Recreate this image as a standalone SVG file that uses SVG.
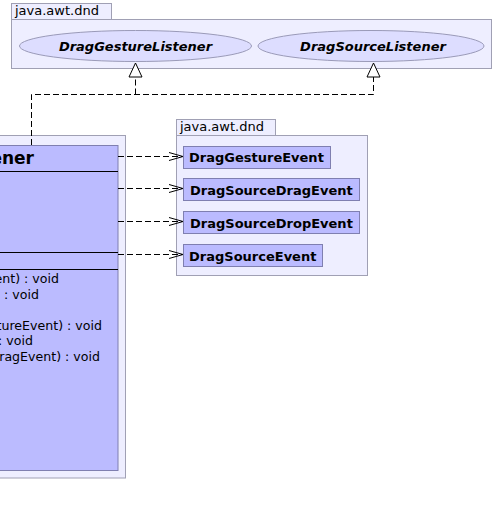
<svg xmlns="http://www.w3.org/2000/svg" width="494" height="516" viewBox="0 0 494 516">
<defs>
<style>
.pkg{fill:#EEEEFF;stroke:#A0A0B4;stroke-width:1}
.cls{fill:#BBBBFF;stroke:#7F7FB0;stroke-width:1}
.ell{fill:#DDDDFF;stroke:#9A9AB8;stroke-width:1}
.sep{stroke:#000;stroke-width:1}
.tab{font-family:"DejaVu Sans",sans-serif;font-size:13px;fill:#000}
.ev{font-family:"DejaVu Sans",sans-serif;font-size:13px;font-weight:bold;fill:#000}
.ifc{font-family:"DejaVu Sans",sans-serif;font-size:13px;font-weight:bold;font-style:italic;fill:#000}
.hdr{font-family:"DejaVu Sans",sans-serif;font-size:17px;font-weight:bold;fill:#000}
.mth{font-family:"DejaVu Sans",sans-serif;font-size:12.6px;fill:#000}
.dash{fill:none;stroke:#000;stroke-width:1;stroke-dasharray:6,3}
.tri{fill:#fff;stroke:#000;stroke-width:1}
.open{fill:none;stroke:#000;stroke-width:1}
</style>
</defs>
<g id="pkg-top">
<rect class="pkg" x="11.5" y="3.5" width="100" height="16"/>
<rect class="pkg" x="11.5" y="19.5" width="480" height="49"/>
<text class="tab" x="15" y="15">java.awt.dnd</text>
</g>
<g id="DragGestureListener">
<ellipse class="ell" cx="135.5" cy="46" rx="116" ry="15.5"/>
<text class="ifc" x="135.5" y="50.5" text-anchor="middle">DragGestureListener</text>
</g>
<g id="DragSourceListener">
<ellipse class="ell" cx="371" cy="46" rx="113" ry="15.5"/>
<text class="ifc" x="373" y="50.5" text-anchor="middle">DragSourceListener</text>
</g>
<g id="pkg-events">
<rect class="pkg" x="176.5" y="119.5" width="99" height="16"/>
<rect class="pkg" x="176.5" y="135.5" width="191" height="140"/>
<text class="tab" x="180" y="131">java.awt.dnd</text>
</g>
<g id="DragGestureEvent">
<rect class="cls" x="183.5" y="146.5" width="147" height="22"/>
<text class="ev" x="189" y="162">DragGestureEvent</text>
</g>
<g id="DragSourceDragEvent">
<rect class="cls" x="183.5" y="178.5" width="176" height="22"/>
<text class="ev" x="190" y="194.5">DragSourceDragEvent</text>
</g>
<g id="DragSourceDropEvent">
<rect class="cls" x="183.5" y="211.5" width="176" height="22"/>
<text class="ev" x="190" y="227.5">DragSourceDropEvent</text>
</g>
<g id="DragSourceEvent">
<rect class="cls" x="183.5" y="244.5" width="139" height="22"/>
<text class="ev" x="189" y="260.5">DragSourceEvent</text>
</g>
<g id="listener-class">
<rect class="pkg" x="-10" y="135.5" width="135.5" height="342.5"/>
<rect class="cls" x="-10" y="145.5" width="128" height="325"/>
<text class="hdr" x="34" y="164" text-anchor="end">ener</text>
<line class="sep" x1="0" y1="171.5" x2="118" y2="171.5"/>
<line class="sep" x1="0" y1="252.5" x2="118" y2="252.5"/>
<line class="sep" x1="0" y1="269.5" x2="118" y2="269.5"/>
<text class="mth" x="59" y="283" text-anchor="end">ent) : void</text>
<text class="mth" x="39" y="298.5" text-anchor="end">) : void</text>
<text class="mth" x="102" y="329.5" text-anchor="end">tureEvent) : void</text>
<text class="mth" x="33" y="345" text-anchor="end">: void</text>
<text class="mth" x="100" y="360.5" text-anchor="end">DragEvent) : void</text>
</g>
<g id="connectors">
<path class="dash" d="M31.5,145 V94.5 H373.5 V77"/>
<path class="dash" d="M135.5,94.5 V77"/>
<polygon class="tri" points="135.5,63 129,77 142,77"/>
<polygon class="tri" points="373.5,63 367,77 380,77"/>
<path class="dash" d="M118,156.5 H182"/>
<path class="dash" d="M118,188.5 H182"/>
<path class="dash" d="M118,221.5 H182"/>
<path class="dash" d="M118,254.5 H182"/>
<path class="open" d="M169,152.5 L183,156.5 L169,160.5"/>
<path class="open" d="M169,184.5 L183,188.5 L169,192.5"/>
<path class="open" d="M169,217.5 L183,221.5 L169,225.5"/>
<path class="open" d="M169,250.5 L183,254.5 L169,258.5"/>
</g>
</svg>
